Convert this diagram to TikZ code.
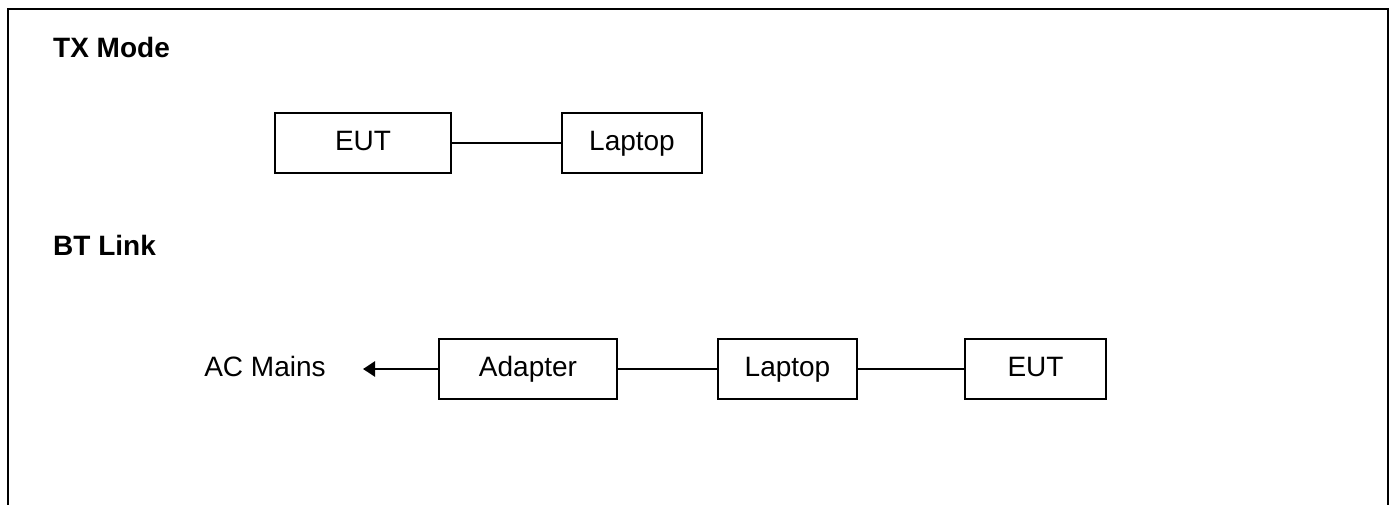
\documentclass[tikz,border=0pt]{standalone}
\usepackage{fontspec}
\setmainfont{Liberation Sans}
\usetikzlibrary{arrows.meta}
\begin{document}
\begin{tikzpicture}[x=1pt,y=-1pt,
  lbl/.style={inner sep=0pt,text height=20pt,text depth=6pt,font=\fontsize{28}{32}\selectfont},
  box/.style={lbl,draw,line width=1.5pt,minimum height=60pt},
  head/.style={anchor=base west,inner sep=0pt,font=\fontsize{28}{32}\selectfont\bfseries},
  wire/.style={line width=1.5pt},
  arr/.style={line width=2.5pt,-{Triangle[length=12pt,width=15pt]}}]
\useasboundingbox (0,0) rectangle (1394,504);
\draw[line width=2pt] (7.5,510) -- (7.5,8.5) -- (1387.5,8.5) -- (1387.5,510);
\node[head] (tx) at (53,57) {TX Mode};
\node[head] (bt) at (53,255) {BT Link};
% TX row
\node[box,minimum width=176pt] (eut1) at (363,143) {EUT};
\node[box,minimum width=140pt] (lap1) at (632,143) {Laptop};
\draw[wire] (eut1.east) -- (lap1.west);
% BT row
\node[box,minimum width=178pt] (ad) at (528,369) {Adapter};
\node[box,minimum width=139pt] (lap2) at (787.5,369) {Laptop};
\node[box,minimum width=141pt] (eut2) at (1035.5,369) {EUT};
\node[lbl] (ac) at (265,369) {AC Mains};
\coordinate (tip) at (363,369);
\draw[arr] (ad.west) -- (tip);
\draw[wire] (ad.east) -- (lap2.west);
\draw[wire] (lap2.east) -- (eut2.west);
\end{tikzpicture}
\end{document}
